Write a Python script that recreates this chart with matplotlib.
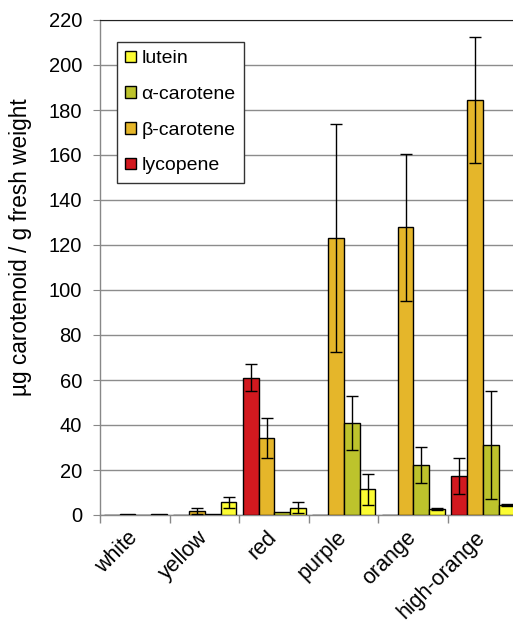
import numpy as np
import matplotlib
matplotlib.use("Agg")
import matplotlib.pyplot as plt
from matplotlib.patches import Patch

plt.rcParams['font.family'] = ['Liberation Sans', 'DejaVu Sans']

categories = ["white", "yellow", "red", "purple", "orange", "high-orange"]
series_names = ["lycopene", "\u03b2-carotene", "\u03b1-carotene", "lutein"]
lycopene = [0.0, 0.0, 61.0, 0.0, 0.0, 17.5]
lycopene_err = [0.0, 0.0, 6.1, 0.0, 0.0, 8.0]
beta_carotene = [0.3, 1.9, 34.1, 123.1, 127.8, 184.5]
beta_err = [0.0, 1.3, 8.9, 50.5, 32.5, 28.0]
alpha_carotene = [0.0, 0.3, 1.3, 41.0, 22.2, 31.1]
alpha_err = [0.0, 0.0, 0.0, 12.0, 8.0, 24.0]
lutein = [0.3, 5.6, 3.3, 11.4, 2.7, 4.4]
lutein_err = [0.0, 2.5, 2.4, 7.0, 0.5, 0.5]
y_ticks = [0, 20, 40, 60, 80, 100, 120, 140, 160, 180, 200, 220]

values = [lycopene, beta_carotene, alpha_carotene, lutein]
errors = [lycopene_err, beta_err, alpha_err, lutein_err]
colors = ["#D2191F", "#E5B62A", "#BDC32C", "#FCFC33"]

fig = plt.figure(figsize=(5.13, 6.22), dpi=100)
ax = fig.add_axes([100/513, 107/622, 417/513, 495/622])

x = np.arange(len(categories))
w = 0.227
for k, (vals, errs, col) in enumerate(zip(values, errors, colors)):
    pos = x + (k - 1.5) * w + 0.01
    vals = np.array(vals)
    errs = np.array(errs)
    ax.bar(pos, vals, width=w, color=col, edgecolor="black", linewidth=1.0, zorder=3)
    m = errs > 0
    ax.errorbar(pos[m], vals[m], yerr=errs[m], fmt="none", ecolor="black",
                elinewidth=1.0, capsize=4, capthick=1.0, zorder=4)

ax.set_xlim(-0.5, len(categories) - 0.5)
ax.set_ylim(0, 220)
ax.set_yticks(y_ticks)
ax.tick_params(axis="y", labelsize=14.5, length=5, color="#888888", pad=8)
ax.yaxis.grid(True, color="#8c8c8c", linewidth=1.0, zorder=0)
ax.set_axisbelow(True)

ax.set_xticks(x)
ax.set_xticklabels(categories, rotation=45, ha="right", va="center",
                   rotation_mode="anchor", fontsize=15.5)
ax.tick_params(axis="x", which="major", length=0, pad=14)
ax.set_xticks(np.arange(len(categories) + 1) - 0.5, minor=True)
ax.tick_params(axis="x", which="minor", length=6, color="#888888", width=1)

for s in ["left", "bottom"]:
    ax.spines[s].set_color("#888888")
    ax.spines[s].set_linewidth(1.0)
ax.spines["top"].set_color("#222222")
ax.spines["right"].set_visible(False)

ax.set_ylabel("\u00b5g carotenoid / g fresh weight", fontsize=16.3)
ax.yaxis.set_label_coords(-0.163, 0.541)

handles = [Patch(facecolor=colors[i], edgecolor="black", linewidth=1.0) for i in [3, 2, 1, 0]]
labels = [series_names[i] for i in [3, 2, 1, 0]]
leg = ax.legend(handles, labels, loc="upper left", bbox_to_anchor=(0.04, 0.955),
                borderaxespad=0, fontsize=14, fancybox=False, framealpha=1,
                edgecolor="#333333", handlelength=0.55, handleheight=0.55,
                handletextpad=0.3, labelspacing=0.96, borderpad=0.42)
leg.get_frame().set_linewidth(1.0)
leg.set_zorder(5)

fig.savefig("out.png", dpi=100)
